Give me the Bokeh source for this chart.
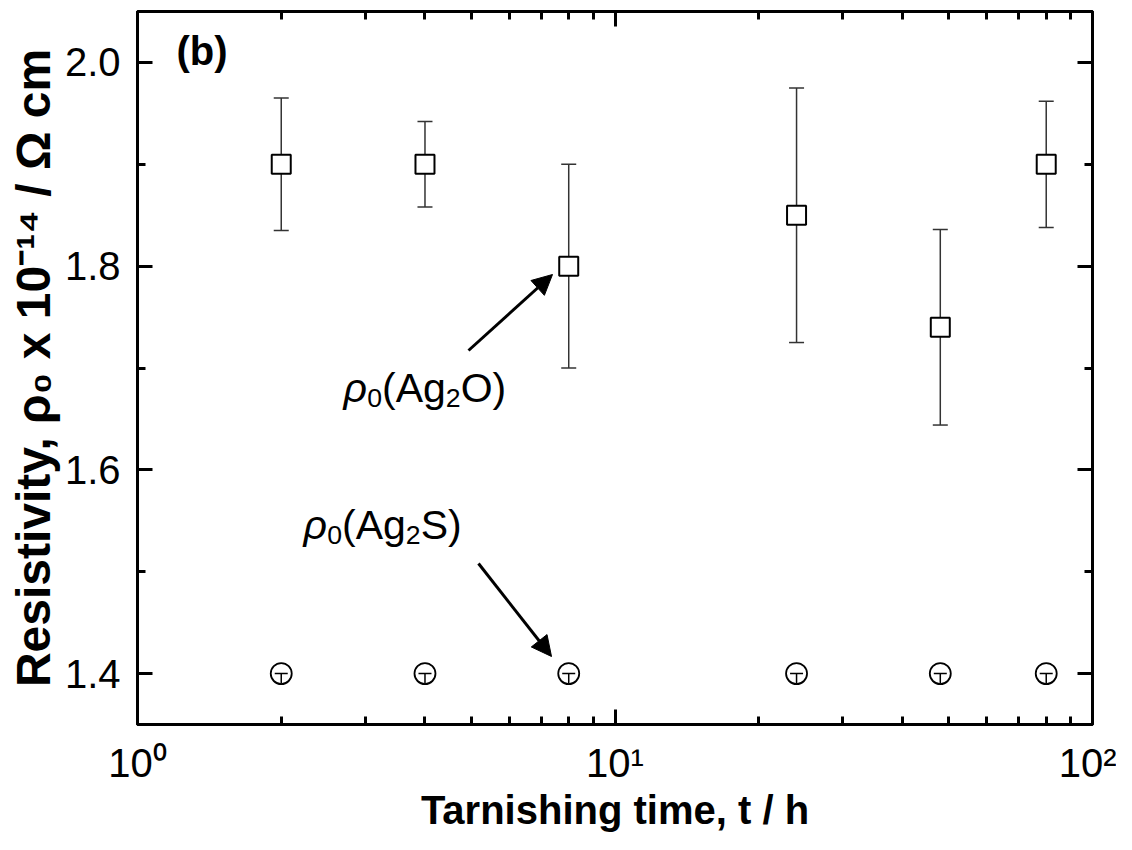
import math
from bokeh.plotting import figure
from bokeh.models import (LinearAxis, LogAxis, FixedTicker, Label, Arrow, NormalHead,
                          Range1d, ColumnDataSource, CustomJSTickFormatter, PrintfTickFormatter)
from bokeh.embed import file_html
from bokeh.resources import INLINE

# ---------------- data ----------------
t_hours = [2, 4, 8, 24, 48, 80]
rho_ag2o = [1.90, 1.90, 1.80, 1.85, 1.74, 1.90]
rho_ag2o_err = [0.065, 0.042, 0.100, 0.125, 0.096, 0.062]
rho_ag2s = [1.40, 1.40, 1.40, 1.40, 1.40, 1.40]
rho_ag2s_err = [0.010, 0.010, 0.010, 0.010, 0.010, 0.010]

y_major_ticks = [1.4, 1.6, 1.8, 2.0]
y_minor_ticks = [1.5, 1.7, 1.9]
x_major_ticks = [1, 10, 100]
x_tick_labels = ["10\u2070", "10\u00b9", "10\u00b2"]

x_axis_title = "Tarnishing time, t / h"
y_axis_title = "Resistivity, \u03c1\u2080 x 10\u207b\u00b9\u2074 / \u03a9 cm"

X_MIN, X_MAX = 1, 100
Y_MIN, Y_MAX = 1.35, 2.05

# ---------------- layout (pixels in the picture) ----------------
FRAME_L, FRAME_R, FRAME_T, FRAME_B = 137, 1092, 11, 724
W, H = 1116, 834
TEXT_SHIFT = -18   # correction between requested and rendered text baseline


def xd(px):
    lo, hi = math.log10(X_MIN), math.log10(X_MAX)
    return 10 ** (lo + (px - FRAME_L) / (FRAME_R - FRAME_L) * (hi - lo))


def yd(py):
    return Y_MIN + (FRAME_B - py) / (FRAME_B - FRAME_T) * (Y_MAX - Y_MIN)


FONT = "Liberation Sans"

p = figure(width=W, height=H, x_axis_type="log",
           x_range=Range1d(X_MIN, X_MAX), y_range=Range1d(Y_MIN, Y_MAX),
           output_backend="svg", toolbar_location=None,
           min_border_left=FRAME_L,
           min_border_right=W - FRAME_R,
           min_border_top=FRAME_T,
           min_border_bottom=H - FRAME_B,
           background_fill_color="white", border_fill_color="white")
p.outline_line_color = "black"
p.outline_line_width = 3
p.xgrid.visible = False
p.ygrid.visible = False

empty_fmt = CustomJSTickFormatter(code="return ''")
x_minor = [m * d for d in (1, 10) for m in range(2, 10)]


def style_axis(ax, labels=True):
    ax.axis_line_width = 3
    ax.axis_line_color = "black"
    ax.major_tick_in = 15
    ax.major_tick_out = 0
    ax.minor_tick_in = 8
    ax.minor_tick_out = 0
    ax.major_tick_line_width = 3
    ax.minor_tick_line_width = 3
    ax.major_tick_line_color = "black"
    ax.minor_tick_line_color = "black"
    if labels:
        ax.major_label_text_font_size = "40px"
        ax.major_label_text_font = FONT
        ax.major_label_text_color = "black"
        ax.axis_label_text_font = FONT
        ax.axis_label_text_font_style = "bold"
        ax.axis_label_text_color = "black"
    else:
        ax.formatter = empty_fmt
        ax.major_label_text_font_size = "0px"
        ax.major_label_standoff = 0


# left axis
yax = p.yaxis[0]
yax.ticker = FixedTicker(ticks=y_major_ticks, minor_ticks=y_minor_ticks)
yax.formatter = PrintfTickFormatter(format="%.1f")
style_axis(yax)
yax.major_label_standoff = 17
yax.axis_label = y_axis_title
yax.axis_label_text_font_size = "48px"
yax.axis_label_standoff = 2

# bottom axis
xax = p.xaxis[0]
xax.ticker = FixedTicker(ticks=x_major_ticks, minor_ticks=x_minor)
style_axis(xax)
xax.major_label_overrides = {tv: lab for tv, lab in zip(x_major_ticks, x_tick_labels)}
xax.major_label_standoff = 16
xax.axis_label = x_axis_title
xax.axis_label_text_font_size = "40px"
xax.axis_label_standoff = 0

# right and top mirror axes
rax = LinearAxis(ticker=FixedTicker(ticks=y_major_ticks, minor_ticks=y_minor_ticks))
style_axis(rax, labels=False)
p.add_layout(rax, "right")
tax = LogAxis(ticker=FixedTicker(ticks=x_major_ticks, minor_ticks=x_minor))
style_axis(tax, labels=False)
p.add_layout(tax, "above")

# ---------------- glyphs ----------------
src_o = ColumnDataSource(dict(
    t=t_hours, y=rho_ag2o,
    lo=[v - e for v, e in zip(rho_ag2o, rho_ag2o_err)],
    hi=[v + e for v, e in zip(rho_ag2o, rho_ag2o_err)]))
src_s = ColumnDataSource(dict(
    t=t_hours, y=rho_ag2s,
    lo=[v - e for v, e in zip(rho_ag2s, rho_ag2s_err)]))

EB = "#333333"
p.segment(x0="t", y0="lo", x1="t", y1="hi", source=src_o, line_color=EB, line_width=1.5)
p.scatter(x="t", y="hi", source=src_o, marker="dash", size=15, line_color=EB, line_width=1.5)
p.scatter(x="t", y="lo", source=src_o, marker="dash", size=15, line_color=EB, line_width=1.5)
p.scatter(x="t", y="y", source=src_o, marker="square", size=19,
          fill_color="white", line_color="black", line_width=2)

p.scatter(x="t", y="y", source=src_s, marker="circle", size=21,
          fill_color="white", line_color="black", line_width=1.8)
p.segment(x0="t", y0="lo", x1="t", y1="y", source=src_s, line_color="black", line_width=1.5)
p.scatter(x="t", y="y", source=src_s, marker="dash", size=13, line_color="black", line_width=1.5)

# ---------------- annotations (inside the frame) ----------------
def add_text(text, px, py, size, style="normal", align="left"):
    p.add_layout(Label(x=xd(px), y=yd(py + TEXT_SHIFT), text=text, text_font=FONT,
                       text_font_size=f"{size}px", text_font_style=style,
                       text_color="black", text_align=align,
                       text_baseline="alphabetic"))


def add_rich(parts, px, py, size):
    x = px
    for text, sc, st, wem, sh in parts:
        add_text(text, x, py + sh * size, size * sc, st)
        x += wem * size * sc


add_text("(b)", 176, 68, 40, "bold")

AF = 41
add_rich([("\u03c1", 1.0, "italic", 0.578, 0.0),
          ("0", 0.65, "normal", 0.556, 0.25),
          ("(Ag", 1.0, "normal", 1.556, 0.0),
          ("2", 0.65, "normal", 0.556, 0.25),
          ("O)", 1.0, "normal", 1.111, 0.0)], 343, 405, AF)
add_rich([("\u03c1", 1.0, "italic", 0.578, 0.0),
          ("0", 0.65, "normal", 0.556, 0.25),
          ("(Ag", 1.0, "normal", 1.556, 0.0),
          ("2", 0.65, "normal", 0.556, 0.25),
          ("S)", 1.0, "normal", 1.0, 0.0)], 303, 542, AF)

for (x0, y0, x1, y1) in [(468, 350, 552, 274), (478, 563, 551, 656)]:
    p.add_layout(Arrow(x_start=xd(x0), y_start=yd(y0), x_end=xd(x1), y_end=yd(y1),
                       line_width=3, line_color="black",
                       end=NormalHead(size=20, fill_color="black", line_color="black",
                                      line_width=1)))

open("out.html", "w").write(file_html(p, INLINE))
